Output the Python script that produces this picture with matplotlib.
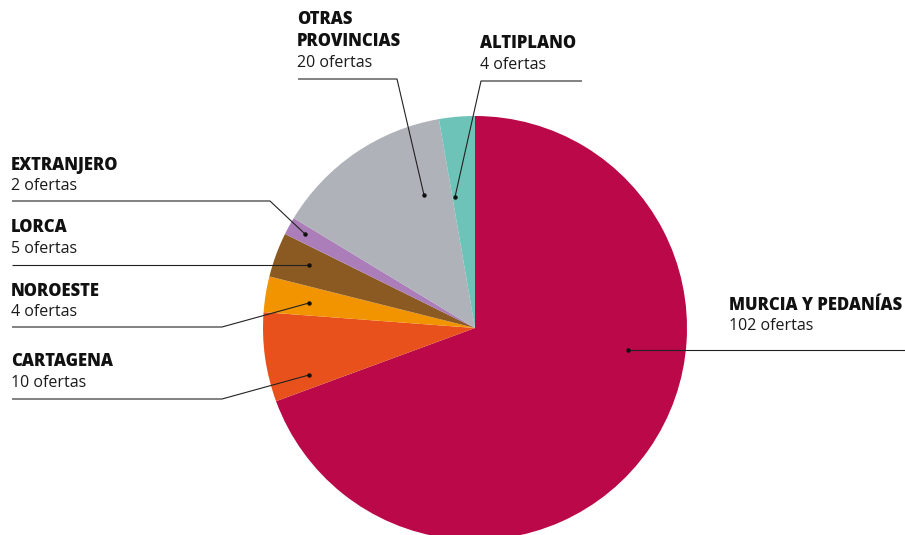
import matplotlib
matplotlib.use("Agg")
from matplotlib import pyplot

# data
zonas = ["MURCIA Y PEDANÍAS", "CARTAGENA", "NOROESTE", "LORCA",
         "EXTRANJERO", "OTRAS\nPROVINCIAS", "ALTIPLANO"]
ofertas = [102, 10, 4, 5, 2, 20, 4]
colores = ["#BA0848", "#E8511C", "#F29400", "#8A5A22",
           "#AB7DB9", "#B0B2BA", "#6DC3B7"]

pyplot.rcParams['font.family'] = ['Open Sans', 'DejaVu Sans']

W, H = 905, 535
fig = pyplot.figure(figsize=(W / 100, H / 100), dpi=100)
ax = fig.add_axes([0, 0, 1, 1])

def py(y):
    # pixel row from top -> data y
    return H - y

ax.pie(ofertas, colors=colores, startangle=90, counterclock=False,
       center=(475, py(328)), radius=212, frame=True,
       wedgeprops=dict(linewidth=0))
ax.set_xlim(0, W)
ax.set_ylim(0, H)
ax.set_aspect('equal')
ax.axis('off')

# label layout: text x, title y, leader path (last point = dot)
layout = {
    "EXTRANJERO": dict(x=12, ty=165, path=[(12, 201), (270, 201), (305, 234)]),
    "LORCA": dict(x=12, ty=228, path=[(12, 265), (309, 265)]),
    "NOROESTE": dict(x=12, ty=291, path=[(12, 327), (222, 327), (309, 303)]),
    "CARTAGENA": dict(x=12, ty=362, path=[(12, 399), (222, 399), (309, 375)]),
    "OTRAS\nPROVINCIAS": dict(x=298, ty=20, path=[(298, 79), (397, 79), (424, 195)]),
    "ALTIPLANO": dict(x=481, ty=44, path=[(582, 81), (481, 81), (455, 197)]),
    "MURCIA Y PEDANÍAS": dict(x=730, ty=305, path=[(905, 350), (628, 350)]),
}

for zona, n in zip(zonas, ofertas):
    L = layout[zona]
    y = L["ty"]
    for ln in zona.split("\n"):
        ax.text(L["x"] - 1, py(y), ln, fontsize=12, fontweight='heavy',
                color='#111111', va='center', ha='left')
        y += 22
    ax.text(L["x"] - 1, py(y - 1), f"{n} ofertas", fontsize=11.5,
            color='#1a1a1a', va='center', ha='left')
    xs = [p[0] for p in L["path"]]
    ys = [py(p[1]) for p in L["path"]]
    ax.plot(xs, ys, color='#222222', linewidth=0.8, solid_capstyle='butt')
    ax.plot(xs[-1], ys[-1], 'o', color='#111111', markersize=2.2)

fig.savefig('out.png', dpi=100)
